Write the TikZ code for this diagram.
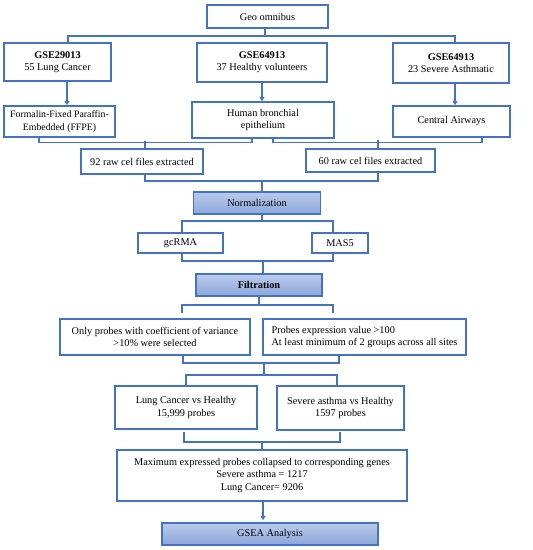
\documentclass[tikz,border=0pt]{standalone}
\usepackage{fontspec}
\setmainfont{Liberation Serif}
\usetikzlibrary{arrows.meta,calc}
\definecolor{bl}{HTML}{4472C4}
\definecolor{ftop}{HTML}{BACAEB}
\definecolor{fbot}{HTML}{8CA7DA}
\tikzset{
 box/.style={draw=bl, line width=1.4pt, fill=white, align=center, inner sep=1pt,
   font=\fontsize{10.3}{12.3}\selectfont},
 shbox/.style={box, top color=ftop, bottom color=fbot},
 conn/.style={draw=bl, line width=1.2pt},
 arr/.style={conn, -{Triangle[length=4.5pt,width=5pt]}},
}
\begin{document}
\begin{tikzpicture}[x=1pt,y=-1pt]
\useasboundingbox (0,0) rectangle (533,550);
% nodes
\node[box, minimum width=121pt, minimum height=23pt] (geo) at (267.5,16.5) {Geo omnibus};
\node[box, minimum width=107pt, minimum height=38pt] (gse1) at (57.5,62) {\textbf{GSE29013}\\55 Lung Cancer};
\node[box, minimum width=130pt, minimum height=39pt] (gse2) at (262,62.5) {\textbf{GSE64913}\\37 Healthy volunteers};
\node[box, minimum width=116pt, minimum height=40pt] (gse3) at (451,63) {\textbf{GSE64913}\\23 Severe Asthmatic};
\node[box, minimum width=111pt, minimum height=31pt, font=\fontsize{9.8}{12.3}\selectfont] (form) at (59.5,121.5) {Formalin-Fixed Paraffin-\\Embedded (FFPE)};
\node[box, minimum width=142pt, minimum height=36pt] (hbe) at (263,120) {Human bronchial\\epithelium};
\node[box, minimum width=117pt, minimum height=31pt] (ca) at (451.5,121.5) {Central Airways};
\node[box, minimum width=122pt, minimum height=25pt] (raw92) at (142,161.5) {92 raw cel files extracted};
\node[box, minimum width=129pt, minimum height=23pt] (raw60) at (370.5,160.5) {60 raw cel files extracted};
\node[shbox, minimum width=127pt, minimum height=22pt] (norm) at (257,203) {Normalization};
\node[box, minimum width=85pt, minimum height=20pt] (gcrma) at (180.5,243) {gcRMA};
\node[box, minimum width=56pt, minimum height=20pt] (mas5) at (340,243) {MAS5};
\node[shbox, minimum width=126pt, minimum height=22pt] (filt) at (259,285) {\textbf{Filtration}};
\node[box, minimum width=190pt, minimum height=36pt] (only) at (155,337) {Only probes with coefficient of variance\\>10\% were selected};
\node[box, minimum width=203pt, minimum height=36pt, align=left] (pexp) at (364.5,337) {Probes expression value >100\\At least minimum of 2 groups across all sites};
\node[box, minimum width=142pt, minimum height=43pt] (lc) at (186,407.5) {Lung Cancer vs Healthy\\15,999 probes};
\node[box, minimum width=127pt, minimum height=44pt] (sa) at (340.5,408) {Severe asthma vs Healthy\\1597 probes};
\node[box, minimum width=290pt, minimum height=51pt] (max) at (262,475.5) {Maximum expressed probes collapsed to corresponding genes\\Severe asthma = 1217\\Lung Cancer= 9206};
\node[shbox, minimum width=216pt, minimum height=22pt] (gsea) at (270,534) {GSEA Analysis};
% junction coordinates
\coordinate (tj) at (265,36);
\coordinate (rawj) at (262,181);
\coordinate (nj) at (262,221);
\coordinate (gj) at (263,261);
\coordinate (fj) at (259,305);
\coordinate (fl) at (182,313);
\coordinate (fr) at (333,313);
\coordinate (oj) at (264,363);
\coordinate (lj) at (264,375);
\coordinate (mj) at (262,442);
\coordinate (ml) at (184,432);
\coordinate (mr) at (340,432);
% top bracket
\draw[conn] (geo.south -| tj) -- (tj);
\draw[conn] ([xshift=10.5pt]gse1.north) |- (tj) -| ([xshift=4pt]gse3.north);
% arrows to second row
\draw[arr] ([xshift=9.5pt]gse1.south) -- ([xshift=7.5pt]form.north);
\draw[arr] (gse2.south) -- (gse2.south |- hbe.north);
\draw[arr] ([xshift=4pt]gse3.south) -- ([xshift=4pt]gse3.south |- ca.north);
% brackets to raw files
\draw[conn] ([xshift=-20.5pt]form.south) -- ++(0,5) -| ([xshift=-11pt]hbe.south);
\draw[conn] ([xshift=3pt]raw92.north) -- ++(0,-7);
\draw[conn] ([xshift=10pt]hbe.south) -- ++(0,4) -| ([xshift=30.5pt]ca.south);
\draw[conn] ([xshift=7.5pt]raw60.north) -- ++(0,-8);
% raw -> normalization
\draw[conn] ([xshift=3pt]raw92.south) |- (rawj) -| ([xshift=7.5pt]raw60.south);
\draw[conn] (rawj) -- (rawj |- norm.north);
% normalization -> gcRMA / MAS5
\draw[conn] (norm.south -| nj) -- (nj);
\draw[conn] ([xshift=1.5pt]gcrma.north) |- (nj) -| ([xshift=-7pt]mas5.north);
% gcRMA / MAS5 -> filtration
\draw[conn] ([xshift=1.5pt]gcrma.south) |- (gj) -| ([xshift=-7pt]mas5.south);
\draw[conn] (gj) -- (gj |- filt.north);
% filtration -> criteria
\draw[conn] (filt.south -| fj) -- (fj);
\draw[conn] (fl) |- (fj) -| (fr);
% criteria -> comparisons
\draw[conn] ([xshift=28pt]only.south) |- (oj) -| ([xshift=-25.5pt]pexp.south);
\draw[conn] (oj) -- (lj);
\draw[conn] (lc.north) |- (lj) -| ([xshift=-3.5pt]sa.north);
% comparisons -> max
\draw[conn] (ml) |- (mj) -| (mr);
\draw[conn] (mj) -- (mj |- max.north);
% max -> GSEA
\draw[arr, shorten >=2pt] ([xshift=1pt]max.south) -- ([xshift=1pt]max.south |- gsea.north);
\end{tikzpicture}
\end{document}
